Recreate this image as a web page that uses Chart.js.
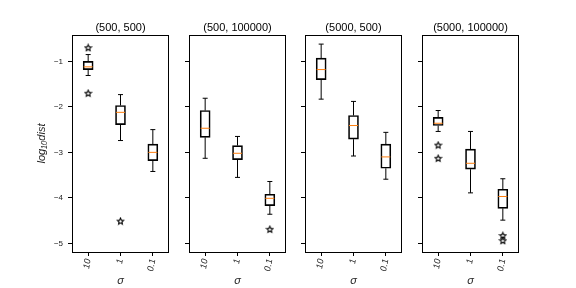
<!DOCTYPE html>
<html>
<head>
<meta charset="utf-8">
<script src="https://cdn.jsdelivr.net/npm/chart.js@4"></script>
<style>
  body { margin: 0; background: #fff; }
  #wrap { position: relative; width: 576px; height: 288px; }
  #wrap canvas { position: absolute; left: 0; top: 0; }
</style>
</head>
<body>
<div id="wrap">
  <canvas id="p0" width="576" height="288"></canvas>
  <canvas id="p1" width="576" height="288"></canvas>
  <canvas id="p2" width="576" height="288"></canvas>
  <canvas id="p3" width="576" height="288"></canvas>
</div>
<script>
const titles = ["(500, 500)", "(500, 100000)", "(5000, 500)", "(5000, 100000)"];
const sigmaLabels = ["10", "1", "0.1"];
const yTicks = [-5, -4, -3, -2, -1];

// box stats per sigma: [whisker low, q1, median, q3, whisker high]
const stats500x500 = [[-1.31, -1.18, -1.12, -1.00, -0.85], [-2.74, -2.39, -2.12, -1.97, -1.73], [-3.42, -3.18, -3.00, -2.82, -2.50]];
const stats500x100000 = [[-3.13, -2.67, -2.47, -2.08, -1.81], [-3.55, -3.16, -3.02, -2.85, -2.65], [-4.36, -4.17, -4.01, -3.92, -3.64]];
const stats5000x500 = [[-1.83, -1.40, -1.18, -0.93, -0.62], [-3.08, -2.71, -2.41, -2.19, -1.88], [-3.59, -3.35, -3.10, -2.82, -2.56]];
const stats5000x100000 = [[-2.54, -2.41, -2.36, -2.23, -2.08], [-3.89, -3.37, -3.24, -2.93, -2.54], [-4.49, -4.23, -3.97, -3.81, -3.58]];

// outliers per sigma
const out500x500 = [[-0.70, -1.70], [-4.51], []];
const out500x100000 = [[], [], [-4.69]];
const out5000x500 = [[], [], []];
const out5000x100000 = [[-2.84, -3.13], [], [-4.83, -4.94]];

const allStats = [stats500x500, stats500x100000, stats5000x500, stats5000x100000];
const allOutliers = [out500x500, out500x100000, out5000x500, out5000x100000];

const FONT = "'Liberation Sans', Arial, sans-serif";
Chart.defaults.font.family = FONT;
Chart.defaults.color = "#222";

// hollow five-point star used for fliers
function makeStar() {
  const c = document.createElement("canvas");
  c.width = 9; c.height = 9;
  const g = c.getContext("2d");
  g.beginPath();
  for (let k = 0; k < 10; k++) {
    const r = k % 2 === 0 ? 3.3 : 1.5;
    const a = -Math.PI / 2 + k * Math.PI / 5;
    const px = 4.5 + r * Math.cos(a), py = 4.8 + r * Math.sin(a);
    if (k === 0) g.moveTo(px, py); else g.lineTo(px, py);
  }
  g.closePath();
  g.fillStyle = "#fff";
  g.fill();
  g.lineWidth = 1.1;
  g.strokeStyle = "#000";
  g.stroke();
  return c;
}
const starImg = makeStar();

const frame = {
  id: "frame",
  afterDraw(chart) {
    const a = chart.chartArea, ctx = chart.ctx;
    ctx.save();
    ctx.strokeStyle = "#000";
    ctx.lineWidth = 1;
    ctx.strokeRect(Math.round(a.left) + 0.5, Math.round(a.top) + 0.5,
      Math.round(a.right - a.left) - 1, Math.round(a.bottom - a.top));
    ctx.restore();
  }
};

function buildPanel(i) {
  const stats = allStats[i];
  const outs = allOutliers[i];
  const left = 72 + Math.round(116.5 * i);
  const width = 97;

  const whiskers = [];
  const caps = [];
  const medians = [];
  const fliers = [];
  sigmaLabels.forEach((c, j) => {
    const s = stats[j];
    whiskers.push({x: c, y: s[3]}, {x: c, y: s[4]}, {x: c, y: null},
                  {x: c, y: s[0]}, {x: c, y: s[1]}, {x: c, y: null});
    caps.push({x: c, y: s[0]}, {x: c, y: s[4]});
    medians.push({x: c, y: s[2]});
    outs[j].forEach(v => fliers.push({x: c, y: v}));
  });

  new Chart(document.getElementById("p" + i), {
    type: "bar",
    data: {
      labels: sigmaLabels,
      datasets: [
        {
          type: "bar", order: 4,
          data: stats.map(s => [s[1], s[3]]),
          backgroundColor: "rgba(0,0,0,0)", borderColor: "#000",
          borderWidth: 1, borderSkipped: false, barThickness: 10
        },
        {
          type: "line", order: 3, data: whiskers,
          borderColor: "#000", borderWidth: 1, pointRadius: 0, spanGaps: false
        },
        {
          type: "line", order: 2, data: caps, showLine: false,
          pointStyle: "line", pointRadius: 2.5, borderColor: "#000", pointBorderWidth: 1
        },
        {
          type: "line", order: 1, data: medians, showLine: false,
          pointStyle: "line", pointRadius: 4.5, borderColor: "#ff7f0e", pointBorderWidth: 1
        },
        {
          type: "line", order: 0, data: fliers, showLine: false,
          pointStyle: starImg, pointRadius: 4
        }
      ]
    },
    options: {
      responsive: false,
      animation: false,
      events: [],
      layout: { padding: { left: 0, right: 576 - left - width, top: 0, bottom: 0 } },
      plugins: {
        legend: { display: false },
        tooltip: { enabled: false },
        title: { display: false }
      },
      scales: {
        x: {
          type: "category", offset: true,
          grid: { offset: false, drawOnChartArea: false, drawTicks: true, tickLength: 4, color: "#000" },
          border: { display: false },
          ticks: { autoSkip: false, minRotation: 80, maxRotation: 80, padding: 2,
                   font: { size: 9, style: "italic" } },
          title: { display: true, text: "σ", font: { size: 11, style: "italic" }, padding: { top: 0, bottom: 0 } },
          afterFit: s => { s.height = 36; }
        },
        top: {
          type: "category", position: "top", offset: true,
          grid: { display: false },
          border: { display: false },
          ticks: { display: false },
          title: {
            display: true, text: titles[i], color: "#000",
            font: { size: 11 }, padding: { top: 21, bottom: 0 }
          },
          afterFit: s => { s.height = 35; }
        },
        y: {
          min: -5.19, max: -0.42,
          afterBuildTicks: s => { s.ticks = yTicks.map(v => ({ value: v })); },
          grid: { drawOnChartArea: false, drawTicks: true, tickLength: 4, color: "#000" },
          border: { display: false },
          ticks: {
            padding: 5, font: { size: 8 },
            callback: v => i === 0 ? String(v).replace("-", "\u2212") : ""
          },
          title: {
            display: i === 0, text: "log\u2081\u2080dist",
            font: { size: 11, style: "italic" }, padding: { top: 35, bottom: 0 }
          },
          afterFit: s => { s.width = left; }
        }
      }
    },
    plugins: [frame]
  });
}

[0, 1, 2, 3].forEach(buildPanel);
</script>
</body>
</html>
